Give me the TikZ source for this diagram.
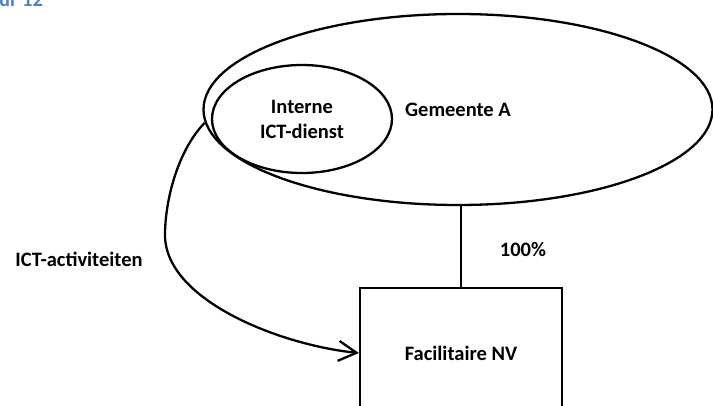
\documentclass[tikz,border=0pt]{standalone}
\usepackage{fontspec}
\setmainfont{Carlito}
\usetikzlibrary{shapes.geometric,arrows.meta}
\definecolor{headblue}{HTML}{4F81BD}
\begin{document}
\begin{tikzpicture}[x=1pt,y=-1pt,
  lbl/.style={font=\fontsize{20.5}{25}\selectfont\bfseries, align=center, inner sep=0pt},
  oval/.style={draw, line width=2.3pt, ellipse, inner sep=0pt},
  conn/.style={line width=2.3pt}]
\useasboundingbox (0,0) rectangle (713,406);
\node[lbl, text=headblue, anchor=base west] (head) at (-1,6.5) {ur 12};
\node[oval, lbl, minimum width=509pt, minimum height=191pt] (gem) at (458,109.5) {Gemeente A};
\node[oval, lbl, minimum width=180pt, minimum height=108pt] (ict) at (302,119) {Interne\\ICT-dienst};
\node[lbl, draw, line width=2.3pt, minimum width=202pt, minimum height=130pt] (nv) at (461,353) {Facilitaire NV};
\node[lbl] (act) at (79,259) {ICT-activiteiten};
\node[lbl] (pct) at (523,250) {100\%};
\draw[conn] (nv.north) -- (nv.north |- gem.south);
\draw[conn, -{Straight Barb[length=18pt,width=20pt]}] (gem.183) .. controls (178,150) and (165,200) .. (165,235)
   .. controls (165,300) and (280,345) .. (nv.west);
\end{tikzpicture}
\end{document}
